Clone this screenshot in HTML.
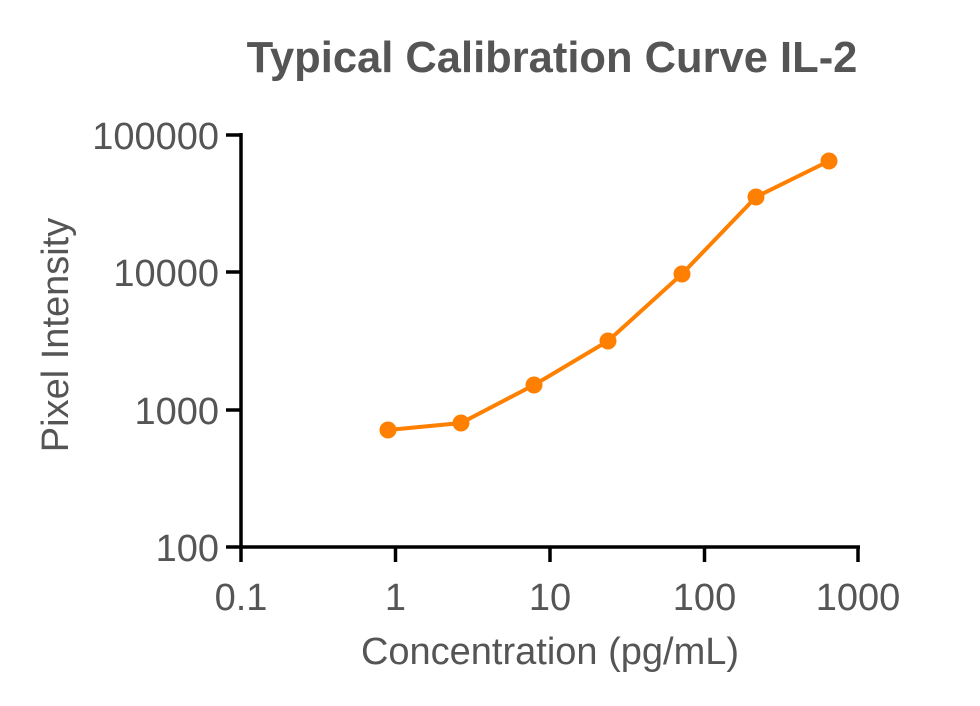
<!DOCTYPE html>
<html><head><meta charset="utf-8"><style>
html,body{margin:0;padding:0;background:#fff;}
</style></head><body>
<svg width="980" height="701" viewBox="0 0 980 701" xmlns="http://www.w3.org/2000/svg" font-family="Liberation Sans, Arial, sans-serif">
<rect width="980" height="701" fill="#fff"/>
<text x="552" y="72" text-anchor="middle" font-size="43.5" font-weight="bold" fill="#555">Typical Calibration Curve IL-2</text>
<g stroke="#000" stroke-width="3.5" fill="none">
<line x1="241" y1="133" x2="241" y2="548"/>
<line x1="240" y1="547" x2="860" y2="547"/>
<line x1="226" y1="135" x2="241" y2="135"/>
<line x1="226" y1="272" x2="241" y2="272"/>
<line x1="226" y1="410" x2="241" y2="410"/>
<line x1="226" y1="547" x2="241" y2="547"/>
<line x1="241" y1="547" x2="241" y2="562"/>
<line x1="395.5" y1="547" x2="395.5" y2="562"/>
<line x1="550" y1="547" x2="550" y2="562"/>
<line x1="704.5" y1="547" x2="704.5" y2="562"/>
<line x1="858" y1="547" x2="858" y2="562"/>
</g>
<g font-size="38" fill="#555" text-anchor="end">
<text x="219" y="149">100000</text>
<text x="219" y="286">10000</text>
<text x="219" y="424">1000</text>
<text x="219" y="561">100</text>
</g>
<g font-size="38" fill="#555" text-anchor="middle">
<text x="241" y="610">0.1</text>
<text x="395.5" y="610">1</text>
<text x="550" y="610">10</text>
<text x="704.5" y="610">100</text>
<text x="858" y="610">1000</text>
<text x="550" y="664">Concentration (pg/mL)</text>
</g>
<text transform="translate(68,335) rotate(-90)" text-anchor="middle" font-size="38" fill="#555">Pixel Intensity</text>
<polyline points="388,430 461,423 534,385 608,341 682,274 756,197 829,161" fill="none" stroke="#FF8000" stroke-width="4"/>
<g fill="#FF8000">
<circle cx="388" cy="430" r="8.5"/><circle cx="461" cy="423" r="8.5"/><circle cx="534" cy="385" r="8.5"/><circle cx="608" cy="341" r="8.5"/><circle cx="682" cy="274" r="8.5"/><circle cx="756" cy="197" r="8.5"/><circle cx="829" cy="161" r="8.5"/>
</g>
</svg>
</body></html>
